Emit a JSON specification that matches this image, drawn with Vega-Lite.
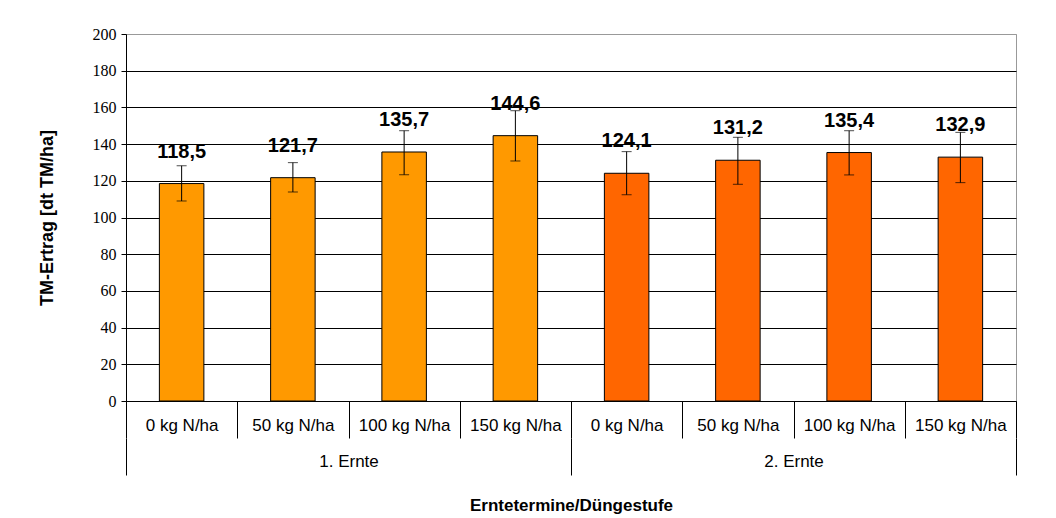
{
  "$schema": "https://vega.github.io/schema/vega-lite/v6.json",
  "width": 890,
  "height": 367,
  "autosize": {"type": "none"},
  "padding": {"left": 126, "top": 34, "right": 40, "bottom": 117},
  "background": "white",
  "config": {
    "locale": {"number": {"decimal": ",", "thousands": ".", "grouping": [3], "currency": ["", " €"]}},
    "view": {"stroke": "#999999", "strokeWidth": 1},
    "font": "Liberation Sans",
    "axis": {"labelColor": "black", "titleColor": "black", "domainColor": "black", "tickColor": "black"}
  },
  "data": {
    "values": [
      {"ernte": "1. Ernte", "cat": "1. Ernte|0 kg N/ha", "value": 118.5, "lo": 109.0, "hi": 128.2},
      {"ernte": "1. Ernte", "cat": "1. Ernte|50 kg N/ha", "value": 121.7, "lo": 113.9, "hi": 129.9},
      {"ernte": "1. Ernte", "cat": "1. Ernte|100 kg N/ha", "value": 135.7, "lo": 123.3, "hi": 147.3},
      {"ernte": "1. Ernte", "cat": "1. Ernte|150 kg N/ha", "value": 144.6, "lo": 130.8, "hi": 158.2},
      {"ernte": "2. Ernte", "cat": "2. Ernte|0 kg N/ha", "value": 124.1, "lo": 112.4, "hi": 135.9},
      {"ernte": "2. Ernte", "cat": "2. Ernte|50 kg N/ha", "value": 131.2, "lo": 118.1, "hi": 143.7},
      {"ernte": "2. Ernte", "cat": "2. Ernte|100 kg N/ha", "value": 135.4, "lo": 123.2, "hi": 147.3},
      {"ernte": "2. Ernte", "cat": "2. Ernte|150 kg N/ha", "value": 132.9, "lo": 119.0, "hi": 146.4}
    ]
  },
  "layer": [
    {
      "encoding": {
        "x": {
          "field": "cat",
          "type": "nominal",
          "sort": null,
          "scale": {"type": "band", "paddingInner": 0, "paddingOuter": 0},
          "axis": {
            "orient": "bottom",
            "title": null,
            "labelAngle": 0,
            "labelExpr": "split(datum.label, '|')[1]",
            "labelFont": "Liberation Sans",
            "labelFontSize": 17,
            "labelBaseline": "middle",
            "labelPadding": -13,
            "labelOverlap": false,
            "tickBand": "extent",
            "tickSize": 37,
            "tickColor": "black",
            "domainColor": "black",
            "grid": false
          }
        }
      },
      "layer": [
        {
          "mark": {"type": "bar", "width": {"band": 0.4}, "stroke": "black", "strokeWidth": 1},
          "encoding": {
            "y": {
              "field": "value",
              "type": "quantitative",
              "scale": {"domain": [0, 200], "nice": false},
              "axis": {
                "values": [0, 20, 40, 60, 80, 100, 120, 140, 160, 180, 200],
                "title": "TM-Ertrag [dt TM/ha]",
                "titleFont": "Liberation Sans",
                "titleFontSize": 18,
                "titleFontWeight": "bold",
                "titlePadding": 36,
                "labelFont": "Liberation Serif",
                "labelFontSize": 16,
                "labelPadding": 5,
                "labelOverlap": false,
                "tickSize": 5,
                "grid": true,
                "gridColor": {"condition": {"test": "datum.value === 200", "value": "#999999"}, "value": "black"},
                "gridWidth": 1
              }
            },
            "color": {
              "field": "ernte",
              "type": "nominal",
              "scale": {"domain": ["1. Ernte", "2. Ernte"], "range": ["#FF9900", "#FF6600"]},
              "legend": null
            }
          }
        },
        {
          "mark": {"type": "rule", "color": "black", "strokeWidth": 1},
          "encoding": {
            "y": {
              "field": "lo",
              "type": "quantitative",
              "axis": {
                "values": [0, 20, 40, 60, 80, 100, 120, 140, 160, 180, 200],
                "title": "TM-Ertrag [dt TM/ha]",
                "titleFont": "Liberation Sans",
                "titleFontSize": 18,
                "titleFontWeight": "bold",
                "titlePadding": 36,
                "labelFont": "Liberation Serif",
                "labelFontSize": 16,
                "labelPadding": 5,
                "labelOverlap": false,
                "tickSize": 5,
                "grid": true,
                "gridColor": {"condition": {"test": "datum.value === 200", "value": "#999999"}, "value": "black"},
                "gridWidth": 1
              }
            },
            "y2": {"field": "hi"}
          }
        },
        {
          "mark": {"type": "tick", "color": "black", "size": 10, "thickness": 1},
          "encoding": {
            "y": {
              "field": "lo",
              "type": "quantitative",
              "axis": {
                "values": [0, 20, 40, 60, 80, 100, 120, 140, 160, 180, 200],
                "title": "TM-Ertrag [dt TM/ha]",
                "titleFont": "Liberation Sans",
                "titleFontSize": 18,
                "titleFontWeight": "bold",
                "titlePadding": 36,
                "labelFont": "Liberation Serif",
                "labelFontSize": 16,
                "labelPadding": 5,
                "labelOverlap": false,
                "tickSize": 5,
                "grid": true,
                "gridColor": {"condition": {"test": "datum.value === 200", "value": "#999999"}, "value": "black"},
                "gridWidth": 1
              }
            }
          }
        },
        {
          "mark": {"type": "tick", "color": "black", "size": 10, "thickness": 1},
          "encoding": {
            "y": {
              "field": "hi",
              "type": "quantitative",
              "axis": {
                "values": [0, 20, 40, 60, 80, 100, 120, 140, 160, 180, 200],
                "title": "TM-Ertrag [dt TM/ha]",
                "titleFont": "Liberation Sans",
                "titleFontSize": 18,
                "titleFontWeight": "bold",
                "titlePadding": 36,
                "labelFont": "Liberation Serif",
                "labelFontSize": 16,
                "labelPadding": 5,
                "labelOverlap": false,
                "tickSize": 5,
                "grid": true,
                "gridColor": {"condition": {"test": "datum.value === 200", "value": "#999999"}, "value": "black"},
                "gridWidth": 1
              }
            }
          }
        },
        {
          "mark": {"type": "text", "font": "Liberation Sans", "fontSize": 20, "fontWeight": "bold", "color": "black", "baseline": "alphabetic", "dy": -26},
          "encoding": {
            "y": {
              "field": "value",
              "type": "quantitative",
              "axis": {
                "values": [0, 20, 40, 60, 80, 100, 120, 140, 160, 180, 200],
                "title": "TM-Ertrag [dt TM/ha]",
                "titleFont": "Liberation Sans",
                "titleFontSize": 18,
                "titleFontWeight": "bold",
                "titlePadding": 36,
                "labelFont": "Liberation Serif",
                "labelFontSize": 16,
                "labelPadding": 5,
                "labelOverlap": false,
                "tickSize": 5,
                "grid": true,
                "gridColor": {"condition": {"test": "datum.value === 200", "value": "#999999"}, "value": "black"},
                "gridWidth": 1
              }
            },
            "text": {"field": "value", "type": "quantitative", "format": ".1f"}
          }
        }
      ]
    },
    {
      "mark": {"type": "point", "opacity": 0},
      "encoding": {
        "x": {
          "field": "ernte",
          "type": "nominal",
          "sort": null,
          "scale": {"type": "band", "paddingInner": 0, "paddingOuter": 0},
          "axis": {
            "orient": "bottom",
            "offset": 37,
            "domain": false,
            "labelAngle": 0,
            "labelFont": "Liberation Sans",
            "labelFontSize": 17,
            "labelBaseline": "middle",
            "labelPadding": -14,
            "tickBand": "extent",
            "tickSize": 37,
            "tickColor": "black",
            "grid": false,
            "title": "Erntetermine/Düngestufe",
            "titleFont": "Liberation Sans",
            "titleFontSize": 17,
            "titleFontWeight": "bold",
            "titlePadding": 22
          }
        }
      }
    }
  ],
  "resolve": {"scale": {"x": "independent"}, "axis": {"x": "independent"}}
}
